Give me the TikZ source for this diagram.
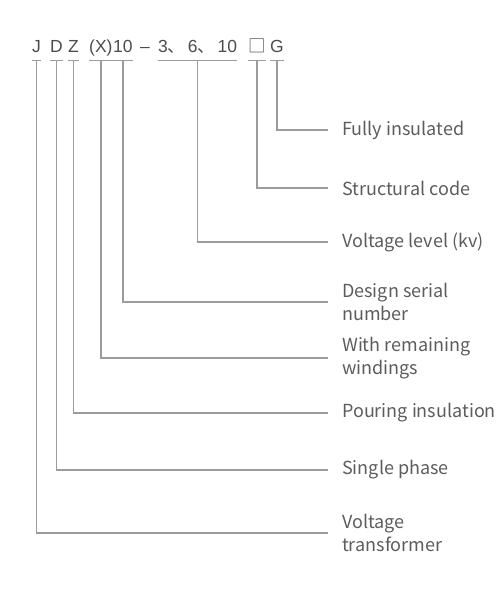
\documentclass[tikz,border=0pt]{standalone}
\usepackage{fontspec}
\setmainfont{Liberation Sans}
\newfontfamily\cjk{Noto Sans CJK SC}
\usetikzlibrary{calc}
\definecolor{codegray}{HTML}{4C4C4C}
\definecolor{descgray}{HTML}{5C5C5C}
\definecolor{linegray}{HTML}{9C9C9C}

\begin{document}
\begin{tikzpicture}[x=1pt,y=-1pt]
	\tikzstyle{code} = [inner sep=0pt, anchor=base west, text depth=0pt, text=codegray, font=\fontsize{17.5}{20}\selectfont]
	\tikzstyle{desc} = [inner sep=0pt, anchor=west, align=left, text=descgray, font=\cjk\fontsize{18}{23}\selectfont]
	\tikzstyle{line} = [draw=linegray, line width=1.3pt]
	\tikzstyle{lead} = [line, shorten >=14pt]

	\useasboundingbox (0,0) rectangle (501,592);

	% model code
	\node [code] (J) at (32,52) {J};
	\node [code] (D) at (50,52) {D};
	\node [code] (Z) at (68,52) {Z};
	\node [code] (X) at (89,52) {(X)};
	\node [code] (Num) at (113,52) {10};
	\node [code] (Dash) at (140,52) {–};
	\node [code] (Volt) at (158,52) {3{\cjk 、}\hspace{2.5pt}6{\cjk 、}\hspace{2.5pt}10};
	\node [code] (Box) at (248,52) {{\cjk □}};
	\node [code] (G) at (270,52) {G};
	\foreach \n in {J,D,Z,X,Num,Volt,Box,G}
		\path [line] ([yshift=-8pt]\n.south west) -- ([yshift=-8pt]\n.south east);

	% meanings
	\node [desc] (Insul) at (342,130) {Fully insulated};
	\node [desc] (Struct) at (342,188) {Structural code};
	\node [desc] (Level) at (342,242) {Voltage level (kv)};
	\node [desc] (Serial) at (342,302) {Design serial\\number};
	\node [desc] (Winding) at (342,358) {With remaining\\windings};
	\node [desc] (Pouring) at (342,413) {Pouring insulation};
	\node [desc] (Phase) at (342,470) {Single phase};
	\node [desc] (Trafo) at (342,533) {Voltage\\transformer};

	\path [lead] ([yshift=-8pt]G.south) |- (Insul.west);
	\path [lead] ([yshift=-8pt]Box.south) |- (Struct.west);
	\path [lead] ([yshift=-8pt]Volt.south) |- (Level.west);
	\path [lead] ([yshift=-8pt]Num.south) |- (Serial.west);
	\path [lead] ([yshift=-8pt]X.south) |- (Winding.west);
	\path [lead] ([yshift=-8pt]Z.south) |- (Pouring.west);
	\path [lead] ([yshift=-8pt]D.south) |- (Phase.west);
	\path [lead] ([yshift=-8pt]J.south) |- (Trafo.west);
\end{tikzpicture}
\end{document}
